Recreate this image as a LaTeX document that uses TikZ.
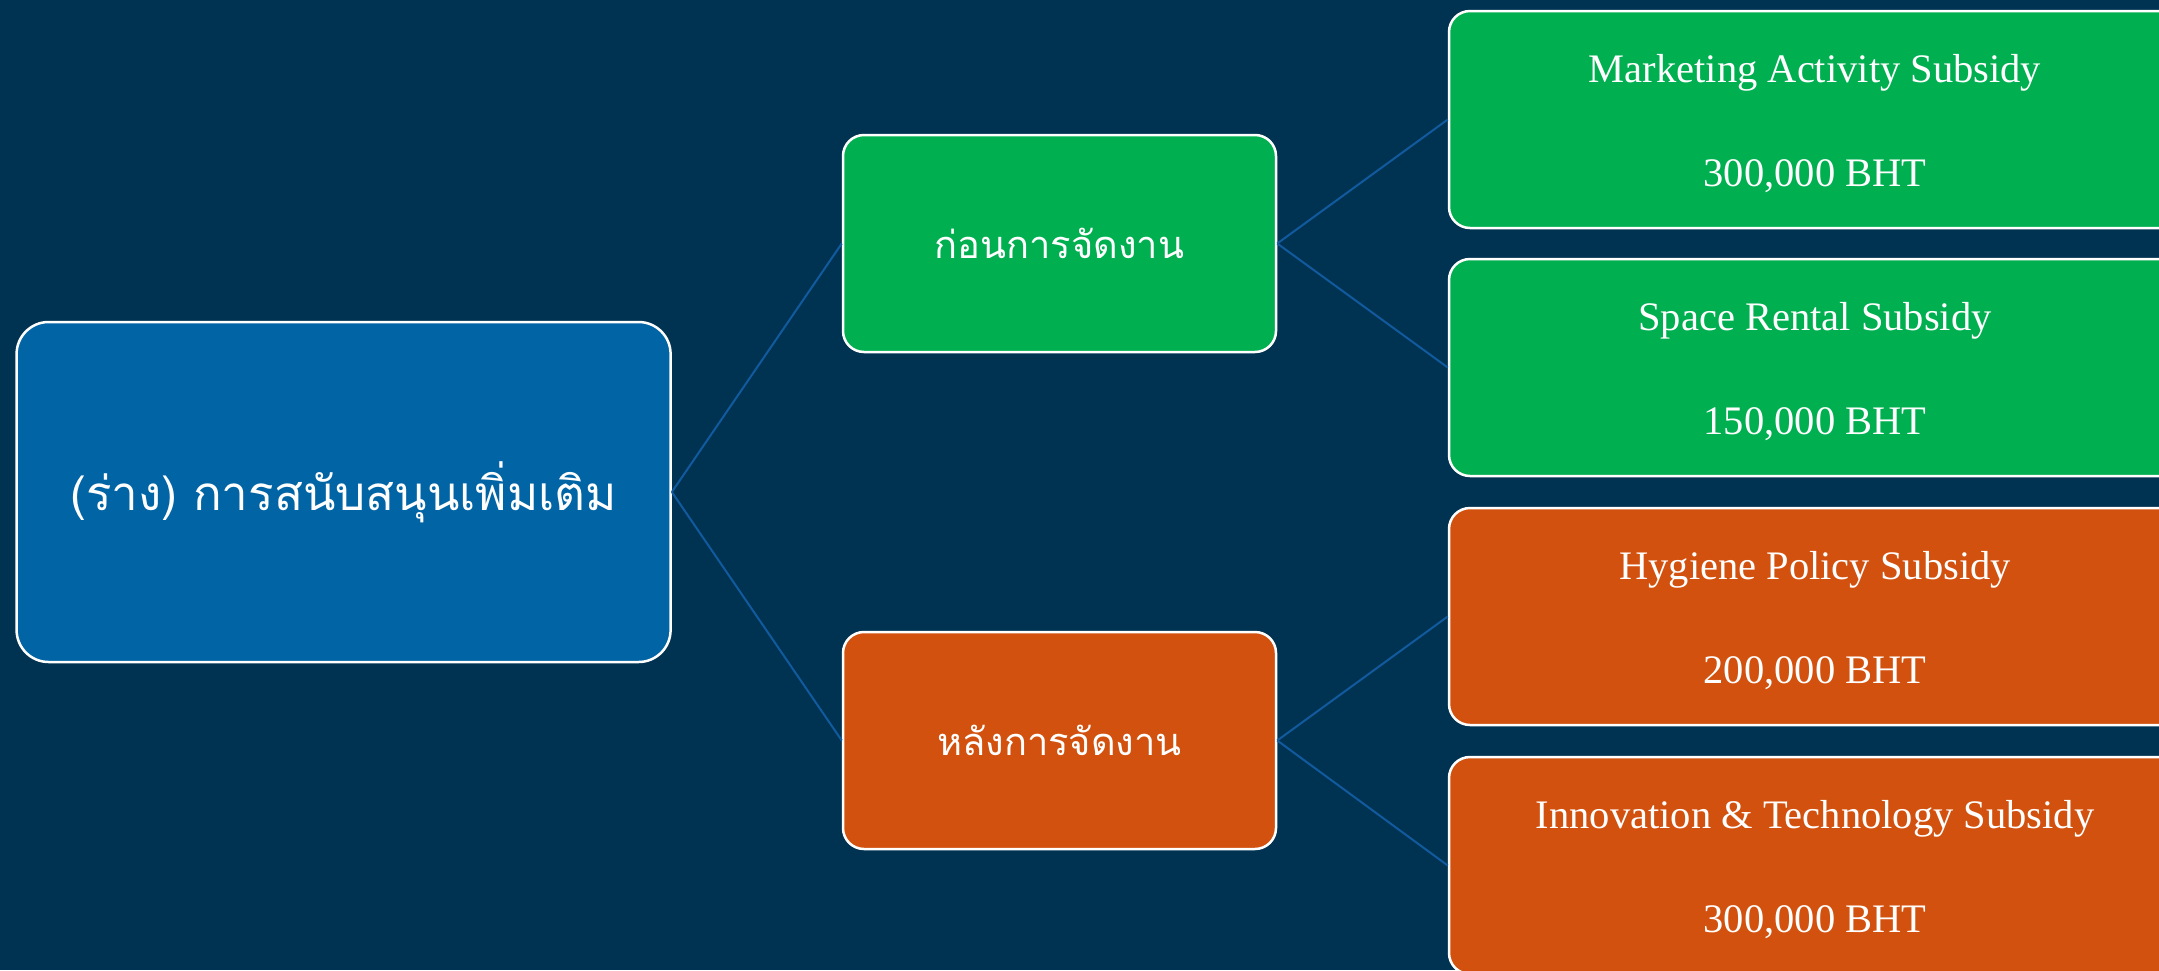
\documentclass[tikz,border=0pt]{standalone}
\usepackage{fontspec}
\setmainfont{Liberation Serif}
\newfontfamily\thaifont[Script=Thai]{Loma}
\definecolor{bgnavy}{RGB}{0,51,82}
\definecolor{rootblue}{RGB}{0,100,165}
\definecolor{boxgreen}{RGB}{0,176,80}
\definecolor{boxorange}{RGB}{210,81,14}
\definecolor{linkblue}{RGB}{18,90,158}
\newcommand{\leafstrut}{\rule{0pt}{36pt}}
\begin{document}
\begin{tikzpicture}[x=1pt,y=-1pt,
  basebox/.style={draw=white, line width=2.5pt, text=white, inner sep=0pt, align=center},
  rootbox/.style={basebox, fill=rootblue, rounded corners=32pt, minimum width=654pt, minimum height=340pt, font=\thaifont\fontsize{47.5}{57}\selectfont},
  midgreen/.style={basebox, fill=boxgreen, rounded corners=21pt, minimum width=433pt, minimum height=217pt, font=\thaifont\fontsize{38}{46}\selectfont},
  midorange/.style={midgreen, fill=boxorange},
  leafgreen/.style={basebox, fill=boxgreen, rounded corners=21pt, minimum width=732pt, minimum height=217pt, font=\fontsize{40.5}{104}\selectfont},
  leaforange/.style={leafgreen, fill=boxorange},
  link/.style={draw=linkblue, line width=2pt}]
\fill[bgnavy] (0,0) rectangle (2159,970);
\useasboundingbox (0,0) rectangle (2159,970);
\clip (0,0) rectangle (2159,970);
\node[rootbox] (root) at (343.6,492) {(ร่าง) การสนับสนุนเพิ่มเติม};
\node[midgreen] (before) at (1059.5,243.5) {ก่อนการจัดงาน};
\node[midorange] (after) at (1059.5,740.5) {หลังการจัดงาน};
\node[leafgreen] (mkt) at (1815,119.5) {\leafstrut Marketing Activity Subsidy\\300,000 BHT};
\node[leafgreen] (space) at (1815,367.5) {\leafstrut Space Rental Subsidy\\150,000 BHT};
\node[leaforange] (hyg) at (1815,616.5) {\leafstrut Hygiene Policy Subsidy\\200,000 BHT};
\node[leaforange] (inno) at (1815,865.5) {\leafstrut Innovation \& Technology Subsidy\\300,000 BHT};
\draw[link] (root.east) -- (before.west);
\draw[link] (root.east) -- (after.west);
\draw[link] (before.east) -- (mkt.west);
\draw[link] (before.east) -- (space.west);
\draw[link] (after.east) -- (hyg.west);
\draw[link] (after.east) -- (inno.west);
\end{tikzpicture}
\end{document}
